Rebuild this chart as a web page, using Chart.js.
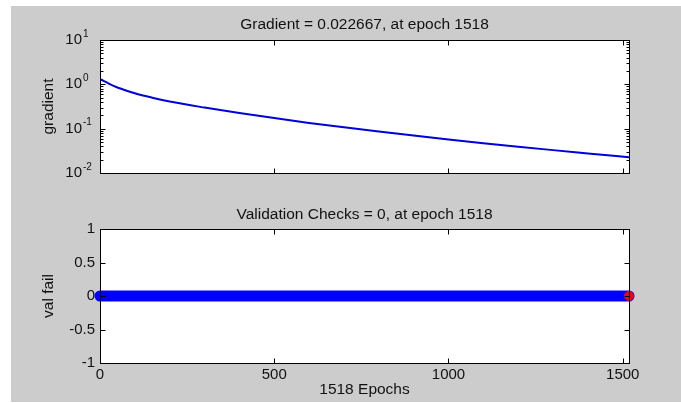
<!DOCTYPE html>
<html lang="en">
<head>
<meta charset="UTF-8">
<title>Training State</title>
<style>
  body, html { margin:0; padding:0; background:#fff; overflow:hidden; }
  #fig { position:absolute; left:11px; top:6px; width:670px; height:396px; background:#cccccc; }
  canvas { position:absolute; left:0; }
  #top { top:0; }
  #bot { top:200px; }
</style>
</head>
<body>
<div id="fig"></div>
<canvas id="top" width="681" height="200"></canvas>
<canvas id="bot" width="681" height="203"></canvas>
<script src="https://cdn.jsdelivr.net/npm/chart.js"></script>
<script>
// values
const gradEpochs = [0, 10, 25, 50, 100, 150, 200, 300, 400, 500, 600, 700, 800, 900, 1000, 1100, 1200, 1300, 1400, 1518];
const gradValues = [1.30, 1.20, 1.04, 0.85, 0.63, 0.50, 0.41, 0.299, 0.225, 0.173, 0.135, 0.107, 0.0859, 0.0697, 0.057, 0.0471, 0.0392, 0.0328, 0.0277, 0.022667];
const valEpochs = [0, 1518];
const valFail = [0, 0];
const bestEpoch = [1518];
const bestVal = [0];
const maxEpoch = 1518;

const epochTicks = [0, 500, 1000, 1500];
const gradTicks = [0.01, 0.1, 1, 10];
const gradTickExp = ['-2', '-1', '0', '1'];
const valTicks = [-1, -0.5, 0, 0.5, 1];

const FONT = '"Liberation Sans", Arial, sans-serif';
const INK = '#111';

function px(v) { return Math.round(v) + 0.5; }

// white axes background, then box + inward ticks (MATLAB style)
function axesPlugin(opts) {
  return {
    id: 'axesBox',
    beforeDraw(chart) {
      const {ctx, chartArea: a} = chart;
      ctx.save();
      ctx.fillStyle = '#fff';
      ctx.fillRect(a.left, a.top, a.right - a.left, a.bottom - a.top);
      ctx.restore();
    },
    afterDraw(chart) {
      const {ctx, chartArea: a} = chart;
      const xs = chart.scales.x, ys = chart.scales.y;
      const L = px(a.left), R = px(a.right), T = px(a.top), B = px(a.bottom);
      ctx.save();
      ctx.strokeStyle = '#000';
      ctx.lineWidth = 1;
      ctx.beginPath();
      epochTicks.forEach(v => {
        const x = px(xs.getPixelForValue(v));
        ctx.moveTo(x, B); ctx.lineTo(x, B - 5);
        ctx.moveTo(x, T); ctx.lineTo(x, T + 5);
      });
      opts.yMajor.forEach(v => {
        const y = px(ys.getPixelForValue(v));
        ctx.moveTo(L, y); ctx.lineTo(L + 5, y);
        ctx.moveTo(R, y); ctx.lineTo(R - 5, y);
      });
      (opts.yMinor || []).forEach(v => {
        const y = px(ys.getPixelForValue(v));
        ctx.moveTo(L, y); ctx.lineTo(L + 3, y);
        ctx.moveTo(R, y); ctx.lineTo(R - 3, y);
      });
      ctx.stroke();
      ctx.strokeRect(L, T, R - L, B - T);

      // titles
      ctx.fillStyle = INK;
      ctx.font = '15.5px ' + FONT;
      ctx.textAlign = 'center';
      ctx.textBaseline = 'middle';
      const cx = (a.left + a.right) / 2;
      ctx.fillText(opts.title, cx, opts.titleY);
      if (opts.xLabel) ctx.fillText(opts.xLabel, cx, opts.xLabelY);
      ctx.save();
      ctx.translate(49, (a.top + a.bottom) / 2);
      ctx.rotate(-Math.PI / 2);
      ctx.fillText(opts.yLabel, 0, 0);
      ctx.restore();

      // log tick labels with superscript exponents
      if (opts.logLabels) {
        gradTicks.forEach((v, i) => {
          const y = ys.getPixelForValue(v);
          ctx.font = '15px ' + FONT;
          ctx.textAlign = 'right';
          ctx.fillText('10', 82, y);
          ctx.font = '10px ' + FONT;
          ctx.textAlign = 'left';
          ctx.fillText(gradTickExp[i], 83, y - 6);
        });
      }
      ctx.restore();
    }
  };
}

const gradMinor = [];
[0.01, 0.1, 1].forEach(d => { for (let m = 2; m <= 9; m++) gradMinor.push(m * d); });

new Chart(document.getElementById('top'), {
  type: 'line',
  data: {
    datasets: [{
      data: gradEpochs.map((e, i) => ({x: e, y: gradValues[i]})),
      borderColor: '#0000d8',
      borderWidth: 2,
      pointRadius: 0,
      cubicInterpolationMode: 'monotone'
    }]
  },
  options: {
    responsive: false,
    animation: false,
    events: [],
    layout: { padding: { left: 100, right: 52, top: 40, bottom: 27 } },
    plugins: { legend: { display: false }, tooltip: { enabled: false } },
    scales: {
      x: { type: 'linear', display: false, min: 0, max: maxEpoch },
      y: { type: 'logarithmic', display: false, min: 0.01, max: 10 }
    }
  },
  plugins: [axesPlugin({
    title: 'Gradient = 0.022667, at epoch 1518', titleY: 25,
    yLabel: 'gradient', yMajor: gradTicks, yMinor: gradMinor, logLabels: true
  })]
});

new Chart(document.getElementById('bot'), {
  type: 'line',
  data: {
    datasets: [{
      data: bestEpoch.map((e, i) => ({x: e, y: bestVal[i]})),
      showLine: false,
      pointStyle: 'circle',
      pointRadius: 4.5,
      pointBackgroundColor: '#ff0000',
      pointBorderColor: '#e0002a',
      pointBorderWidth: 1,
      clip: false
    }, {
      data: valEpochs.map((e, i) => ({x: e, y: valFail[i]})),
      borderColor: '#0000ff',
      borderWidth: 11,
      borderCapStyle: 'round',
      pointRadius: 0,
      clip: false
    }]
  },
  options: {
    responsive: false,
    animation: false,
    events: [],
    layout: { padding: { left: 0, right: 52, top: 29, bottom: 0 } },
    plugins: { legend: { display: false }, tooltip: { enabled: false } },
    scales: {
      x: {
        type: 'linear', min: 0, max: maxEpoch,
        afterBuildTicks: s => { s.ticks = epochTicks.map(v => ({value: v})); },
        afterFit: s => { s.height = 40; },
        grid: { display: false, drawTicks: false },
        border: { display: false },
        ticks: { font: { family: FONT, size: 15 }, color: INK, padding: 3, maxRotation: 0, autoSkip: false, callback: v => String(v) }
      },
      y: {
        type: 'linear', min: -1, max: 1,
        afterBuildTicks: s => { s.ticks = valTicks.map(v => ({value: v})); },
        afterFit: s => { s.width = 100; },
        grid: { display: false, drawTicks: false },
        border: { display: false },
        ticks: { font: { family: FONT, size: 15 }, color: INK, padding: 5, callback: v => String(v) }
      }
    }
  },
  plugins: [axesPlugin({
    title: 'Validation Checks = 0, at epoch 1518', titleY: 15,
    xLabel: '1518 Epochs', xLabelY: 190,
    yLabel: 'val fail', yMajor: valTicks
  })]
});
</script>
</body>
</html>
